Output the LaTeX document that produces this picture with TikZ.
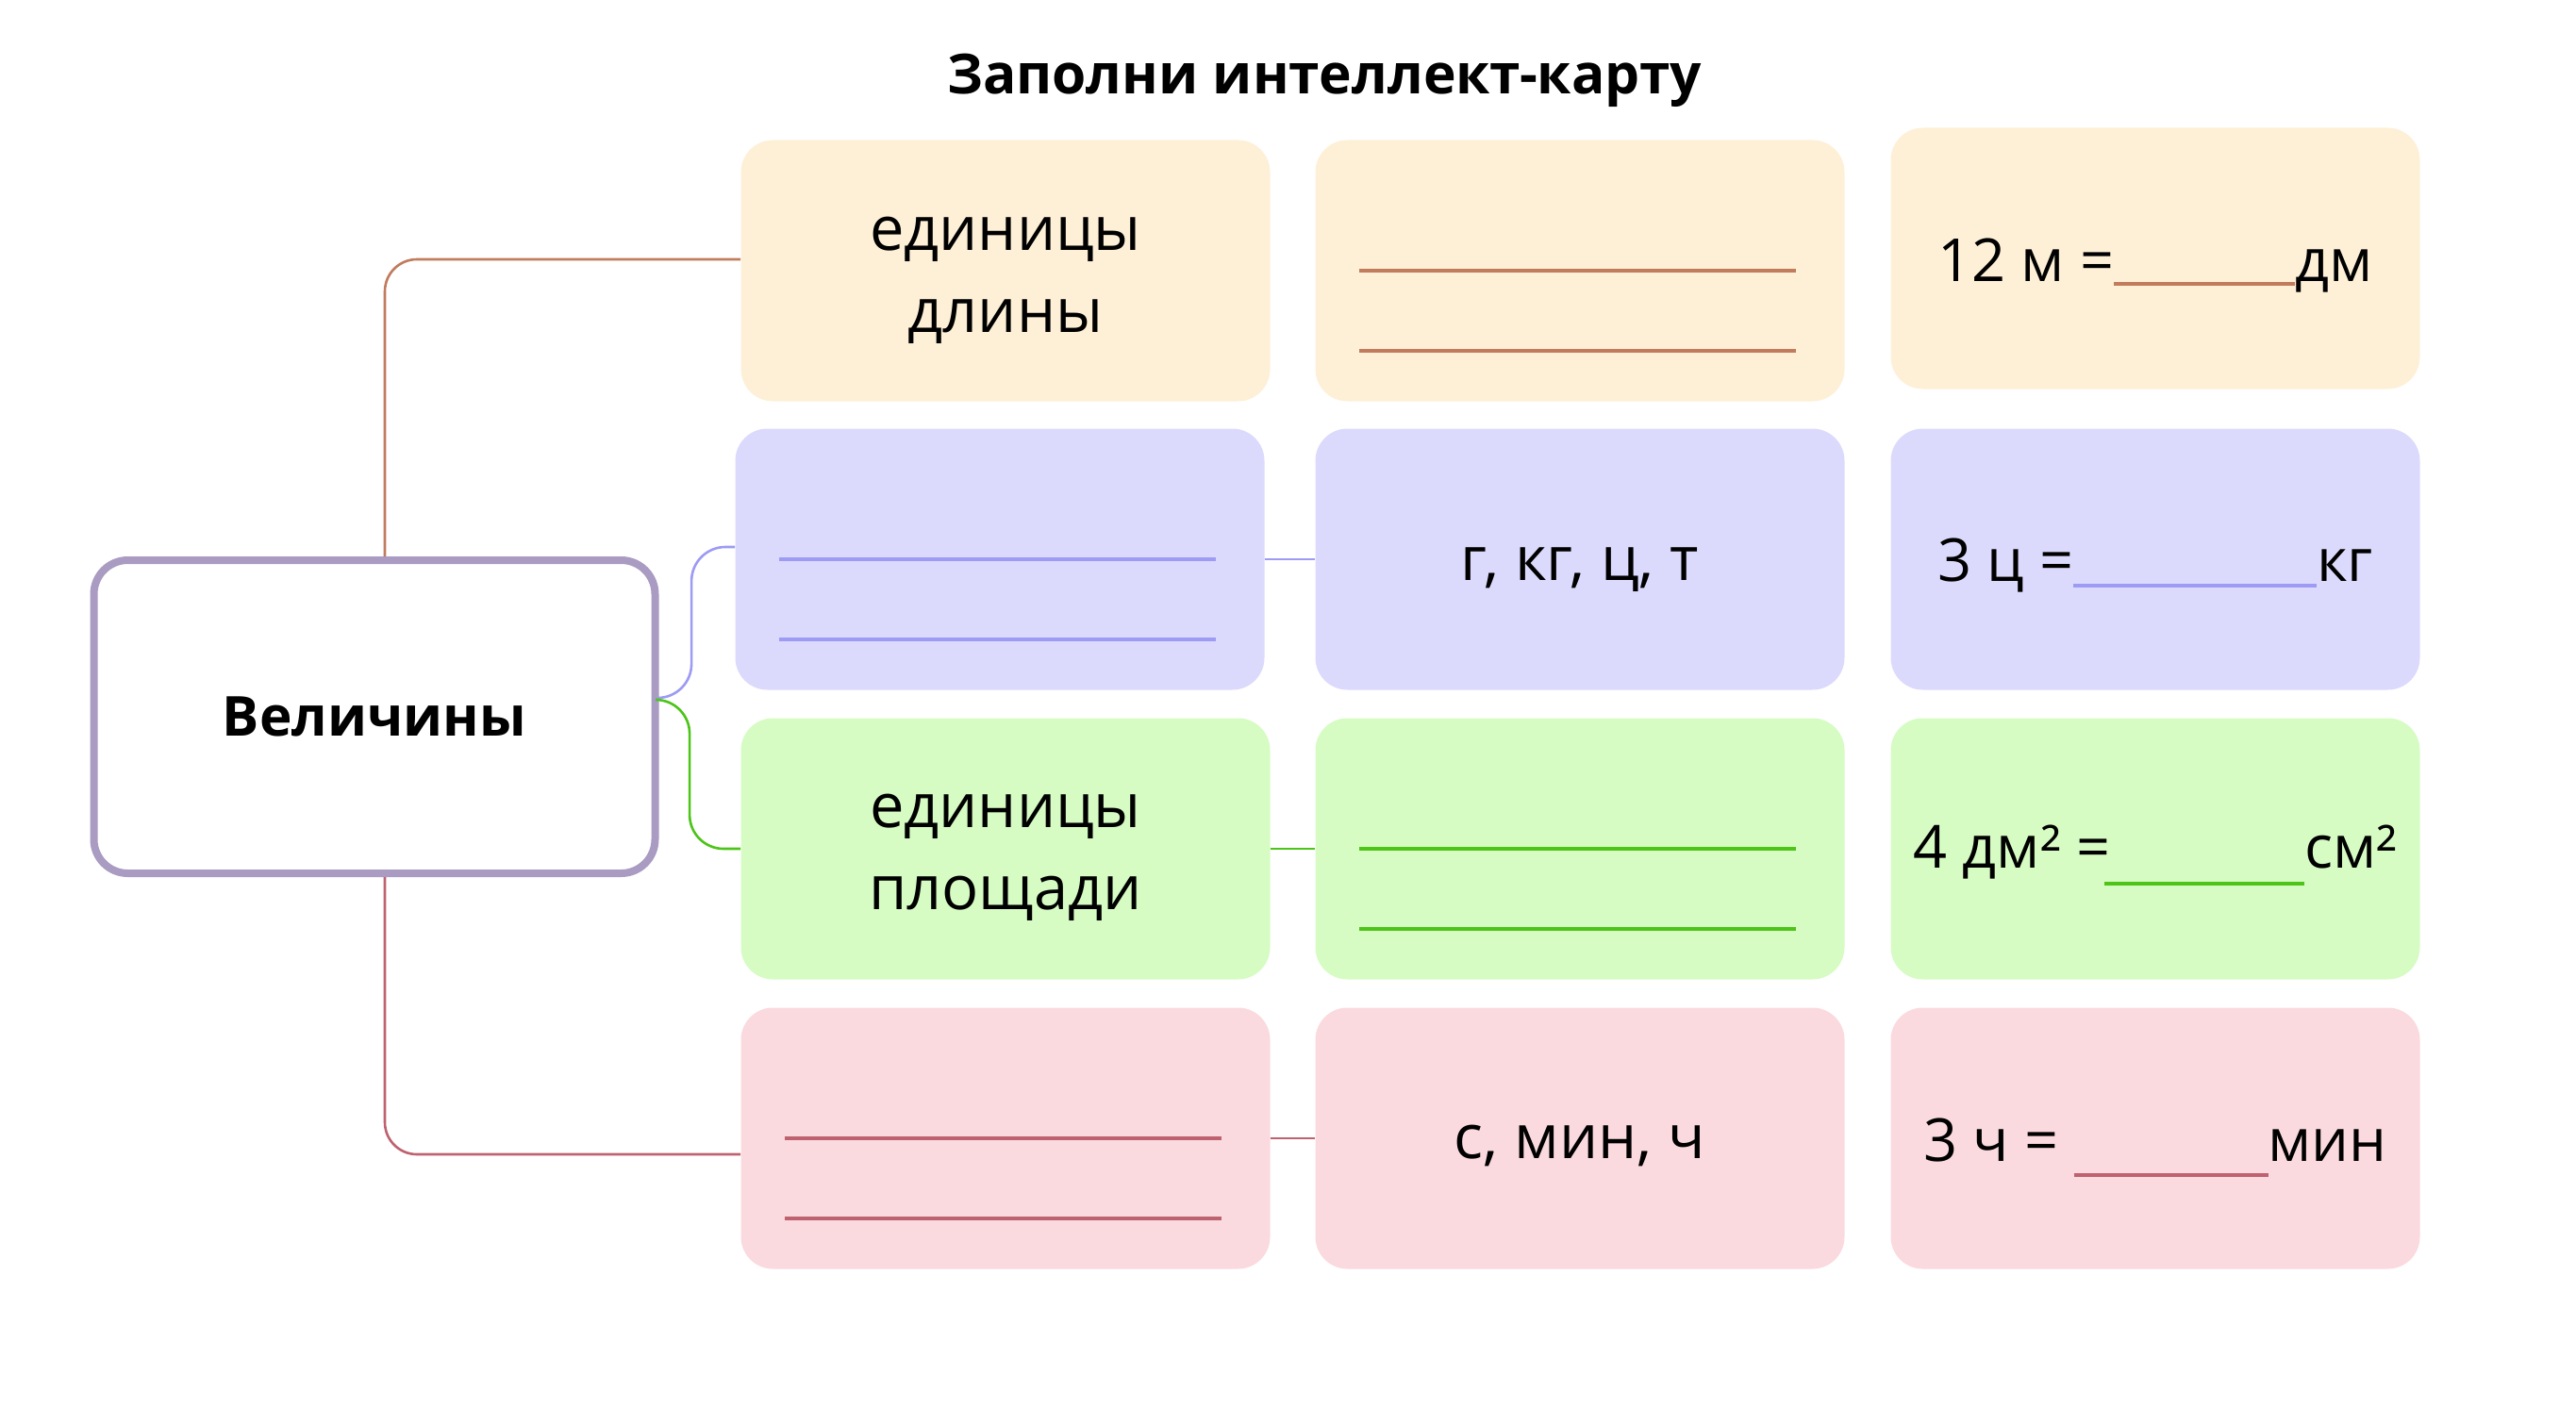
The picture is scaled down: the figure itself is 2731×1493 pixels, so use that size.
\documentclass[tikz,border=0pt]{standalone}
\usepackage{fontspec}
\setmainfont{Open Sans}
\usetikzlibrary{positioning}

\definecolor{lenfill}{HTML}{FEF0D7}
\definecolor{lenline}{HTML}{C17B5D}
\definecolor{massfill}{HTML}{DCDAFC}
\definecolor{massline}{HTML}{9D9BF3}
\definecolor{areafill}{HTML}{D6FCC4}
\definecolor{arealine}{HTML}{4CC418}
\definecolor{timefill}{HTML}{FADADE}
\definecolor{timeline}{HTML}{BE6270}
\definecolor{rootline}{HTML}{A99BC1}

% blank to fill in: colour, width, raise
\newcommand{\gap}[3]{\smash{\textcolor{#1}{\rule[#3]{#2}{2pt}}}}

\begin{document}
\begin{tikzpicture}[x=0.5pt,y=-0.5pt,
    cell/.style={rounded corners=17pt, minimum width=280.5pt, minimum height=138.5pt, inner sep=0pt},
    word/.style={align=center, inner sep=0pt, font=\fontsize{32.5}{43.5}\selectfont},
    sum/.style={inner sep=0pt, font=\fontsize{31.5}{40}\selectfont},
    link/.style={line width=1.3pt},
    blank/.style={line width=2pt}]
  \useasboundingbox (0,0) rectangle (2731,1493);

  \node[font=\bfseries\fontsize{29.3}{35}\selectfont] (title) at (1404,85) {Заполни интеллект-карту};
  \node[draw=rootline, line width=4pt, rounded corners=18pt, minimum width=297.5pt,
    minimum height=166pt, font=\bfseries\fontsize{29.2}{35}\selectfont] (root) at (397,760) {Величины};

  % first column
  \node[cell, fill=lenfill] (len1) at (1066,287) {};
  \node[cell, fill=massfill] (mass1) at (1060,593) {};
  \node[cell, fill=areafill] (area1) at (1066,900) {};
  \node[cell, fill=timefill] (time1) at (1066,1207) {};
  % second column
  \node[cell, fill=lenfill] (len2) at (1675,287) {};
  \node[cell, fill=massfill] (mass2) at (1675,593) {};
  \node[cell, fill=areafill] (area2) at (1675,900) {};
  \node[cell, fill=timefill] (time2) at (1675,1207) {};
  % third column
  \node[cell, fill=lenfill] (len3) at (2285,274) {};
  \node[cell, fill=massfill] (mass3) at (2285,593) {};
  \node[cell, fill=areafill] (area3) at (2285,900) {};
  \node[cell, fill=timefill] (time3) at (2285,1207) {};

  % texts
  \node[word] (len1t) at ([yshift=-5pt]len1.center) {единицы\\длины};
  \node[word] (area1t) at ([yshift=-4.5pt]area1.center) {единицы\\площади};
  \node[word] (mass2t) at ([yshift=-5.5pt]mass2.center) {г, кг, ц, т};
  \node[word] (time2t) at ([yshift=-4pt]time2.center) {с, мин, ч};
  \node[sum] (len3t) at ([yshift=-4pt]len3.center) {12 м =\gap{lenline}{96pt}{-2pt}дм};
  \node[sum] (mass3t) at ([yshift=-3.5pt]mass3.center) {3 ц =\gap{massline}{129pt}{-3pt}кг};
  \node[sum] (area3t) at ([yshift=-2pt]area3.center) {4 дм² =\kern-3pt\gap{arealine}{106pt}{-9pt}см²};
  \node[sum] (time3t) at ([yshift=-1pt]time3.center) {3 ч = \gap{timeline}{103pt}{-8pt}мин};

  % branches from the root
  \draw[link, lenline, rounded corners=17pt] ([xshift=5.5pt]root.north) |- ([yshift=6pt]len1.west);
  \draw[link, timeline, rounded corners=17pt] ([xshift=5.5pt]root.south) |- ([yshift=-8.5pt]time1.west);
  \draw[link, massline, rounded corners=18pt] ([yshift=10pt]root.east)
    -| ([xshift=-23pt,yshift=6.5pt]mass1.west) -- ([yshift=6.5pt]mass1.west);
  \draw[link, arealine, rounded corners=18pt] ([yshift=9pt]root.east)
    -| ([xshift=-27pt]area1.west) -- (area1.west);
  \draw[link, massline] (mass1.east) -- (mass2.west);
  \draw[link, arealine] (area1.east) -- (area2.west);
  \draw[link, timeline] (time1.east) -- (time2.west);

  % lines to write on
  \foreach \b/\c in {len2/lenline, mass1/massline, area2/arealine, time1/timeline}{
    \draw[blank, \c] ([xshift=23.5pt]\b.west) -- ([xshift=-26pt]\b.east);
    \draw[blank, \c] ([xshift=23.5pt,yshift=-42.5pt]\b.west) -- ([xshift=-26pt,yshift=-42.5pt]\b.east);}
\end{tikzpicture}
\end{document}
